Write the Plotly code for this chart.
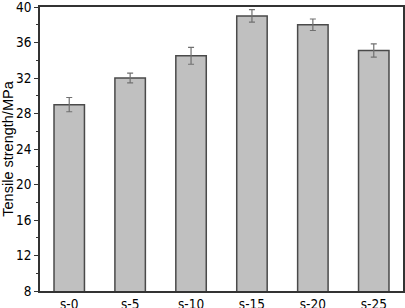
import plotly.graph_objects as go

categories = ["s-0", "s-5", "s-10", "s-15", "s-20", "s-25"]
strength = [29.0, 32.0, 34.5, 39.0, 38.0, 35.1]
errors = [0.8, 0.55, 0.95, 0.7, 0.65, 0.75]
y_ticks = [8, 12, 16, 20, 24, 28, 32, 36, 40]

tick_font = dict(family="Liberation Sans Narrow, Arial Narrow, DejaVu Sans Condensed, Liberation Sans", size=13.5)

fig = go.Figure()
fig.add_trace(go.Bar(
    x=list(range(len(categories))), y=strength,
    width=0.5,
    marker=dict(color="#c0c0c0", line=dict(color="#4a4a4a", width=1.5)),
    error_y=dict(type="data", array=errors, visible=True, color="#707070", thickness=1.2, width=3),
))
fig.update_layout(
    width=405, height=308,
    margin=dict(l=40, r=2, t=7, b=17),
    plot_bgcolor="white", paper_bgcolor="white",
    font=dict(family="Liberation Sans, Arial", size=13, color="black"),
    showlegend=False,
)
fig.update_xaxes(
    range=[-0.48, 5.48], automargin=False,
    tickvals=list(range(len(categories))), ticktext=categories,
    showline=True, linecolor="#333", linewidth=1.5, mirror=True,
    ticks="", showgrid=False, zeroline=False,
    tickfont=tick_font, ticklabeloverflow="allow",
)
fig.update_yaxes(
    range=[8, 40], tickvals=y_ticks, automargin=False,
    showline=True, linecolor="#333", linewidth=1.5, mirror=True,
    ticks="outside", ticklen=4, tickwidth=1, tickcolor="#333",
    minor=dict(dtick=2, ticks="outside", ticklen=2.5, tickwidth=1, tickcolor="#333", showgrid=False),
    showgrid=False, zeroline=False,
    title=dict(text="Tensile strength/MPa", font=dict(size=14.5), standoff=4),
    tickfont=tick_font, ticklabeloverflow="allow",
)
fig.write_html("out.html", config={"displayModeBar": False},
               post_script="document.body.style.margin='0';")
